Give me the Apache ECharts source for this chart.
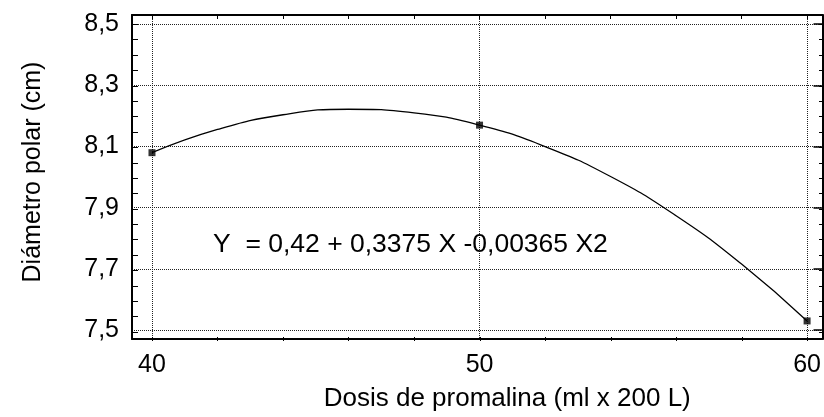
<!DOCTYPE html>
<html>
<head>
<meta charset="utf-8">
<script src="https://cdn.jsdelivr.net/npm/echarts@6/dist/echarts.min.js"></script>
<style>
html, body { margin: 0; background: #fff; }
#main { width: 824px; height: 417px; }
</style>
</head>
<body>
<div id="main"></div>
<script>
// curva ajustada
var doseX = [40, 42, 44, 46, 48, 50, 52, 54, 56, 58, 60];
var fitY = [8.08, 8.156, 8.204, 8.222, 8.21, 8.17, 8.1, 8.002, 7.874, 7.716, 7.53];
// puntos observados
var obsX = [40, 50, 60];
var obsY = [8.08, 8.17, 7.53];
// marcas de los ejes
var xLabels = [40, 50, 60];
var xMinor = [40, 42, 44, 46, 48, 50, 52, 54, 56, 58, 60];
var yLabels = [7.5, 7.7, 7.9, 8.1, 8.3, 8.5];
var yMinor = [7.5, 7.55, 7.6, 7.65, 7.7, 7.75, 7.8, 7.85, 7.9, 7.95, 8.0,
  8.05, 8.1, 8.15, 8.2, 8.25, 8.3, 8.35, 8.4, 8.45, 8.5];

var FONT = '"Liberation Sans", Arial, sans-serif';
var xMin = 39.39, xMax = 60.47, yMin = 7.471, yMax = 8.53;

var chart = echarts.init(document.getElementById('main'));

function pairs(xs, ys) {
  var out = [];
  for (var i = 0; i < xs.length; i++) out.push([xs[i], ys[i]]);
  return out;
}

var blackLine = { show: true, lineStyle: { color: '#000', width: 2 } };
var noLine = { show: false };

var option = {
  animation: false,
  grid: [
    { left: 132, top: 15, right: 1, bottom: 76 },
    { left: 132, top: 15, right: 1, bottom: 76 }
  ],
  xAxis: [
    {
      type: 'value', gridIndex: 0, position: 'bottom', min: xMin, max: xMax,
      axisLine: blackLine,
      axisTick: { show: false, customValues: xLabels },
      axisLabel: { customValues: xLabels, fontSize: 25, margin: 14, color: '#000', fontFamily: FONT },
      splitLine: { show: true, lineStyle: { type: 'dotted', color: '#222', width: 1 } },
      name: 'Dosis de promalina (ml x 200 L)',
      nameLocation: 'middle', nameGap: 47,
      nameTextStyle: { fontSize: 26, color: '#000', fontFamily: FONT, padding: [0, 0, 0, 60] }
    },
    {
      type: 'value', gridIndex: 0, position: 'top', min: xMin, max: xMax,
      axisLine: blackLine,
      axisTick: { show: true, inside: true, length: 4, customValues: xMinor, lineStyle: { color: '#000' } },
      axisLabel: { show: false },
      splitLine: { show: false }
    },
    {
      type: 'value', gridIndex: 1, position: 'bottom', min: xMin, max: xMax,
      axisLine: noLine,
      axisTick: { show: true, inside: true, length: 4, customValues: xMinor, lineStyle: { color: '#000' } },
      axisLabel: { show: false },
      splitLine: { show: false }
    }
  ],
  yAxis: [
    {
      type: 'value', gridIndex: 0, position: 'left', min: yMin, max: yMax,
      axisLine: blackLine,
      axisTick: { show: false, customValues: yLabels },
      axisLabel: {
        customValues: yLabels, fontSize: 25, margin: 13, color: '#000', fontFamily: FONT,
        formatter: function (v) { return v.toFixed(1).replace('.', ','); }
      },
      splitLine: { show: true, lineStyle: { type: 'dotted', color: '#222', width: 1 } },
      name: 'Diámetro polar (cm)',
      nameLocation: 'middle', nameGap: 86,
      nameTextStyle: { fontSize: 25, color: '#000', fontFamily: FONT, padding: [0, 0, 0, 10] }
    },
    {
      type: 'value', gridIndex: 0, position: 'right', min: yMin, max: yMax,
      axisLine: blackLine,
      axisTick: { show: true, inside: true, length: 9, customValues: yLabels, lineStyle: { color: '#000', width: 1.5 } },
      axisLabel: { show: false },
      splitLine: { show: false }
    },
    {
      type: 'value', gridIndex: 1, position: 'left', min: yMin, max: yMax,
      axisLine: noLine,
      axisTick: { show: true, inside: true, length: 6, customValues: yMinor, lineStyle: { color: '#000' } },
      axisLabel: { show: false },
      splitLine: { show: false }
    },
    {
      type: 'value', gridIndex: 1, position: 'right', min: yMin, max: yMax,
      axisLine: noLine,
      axisTick: { show: true, inside: true, length: 4, customValues: yMinor, lineStyle: { color: '#000' } },
      axisLabel: { show: false },
      splitLine: { show: false }
    }
  ],
  graphic: [
    {
      type: 'text', left: 213, top: 231, z: 10,
      style: { text: 'Y  = 0,42 + 0,3375 X -0,00365 X2', font: '26.5px ' + FONT, fill: '#000' }
    }
  ],
  series: [
    {
      type: 'line', xAxisIndex: 0, yAxisIndex: 0,
      data: pairs(doseX, fitY),
      smooth: true, showSymbol: false,
      lineStyle: { color: '#000', width: 1.3 }
    },
    {
      type: 'scatter', xAxisIndex: 0, yAxisIndex: 0,
      data: pairs(obsX, obsY),
      symbol: 'rect', symbolSize: 7,
      itemStyle: { color: '#000' }, z: 5
    }
  ]
};

chart.setOption(option);
</script>
</body>
</html>
